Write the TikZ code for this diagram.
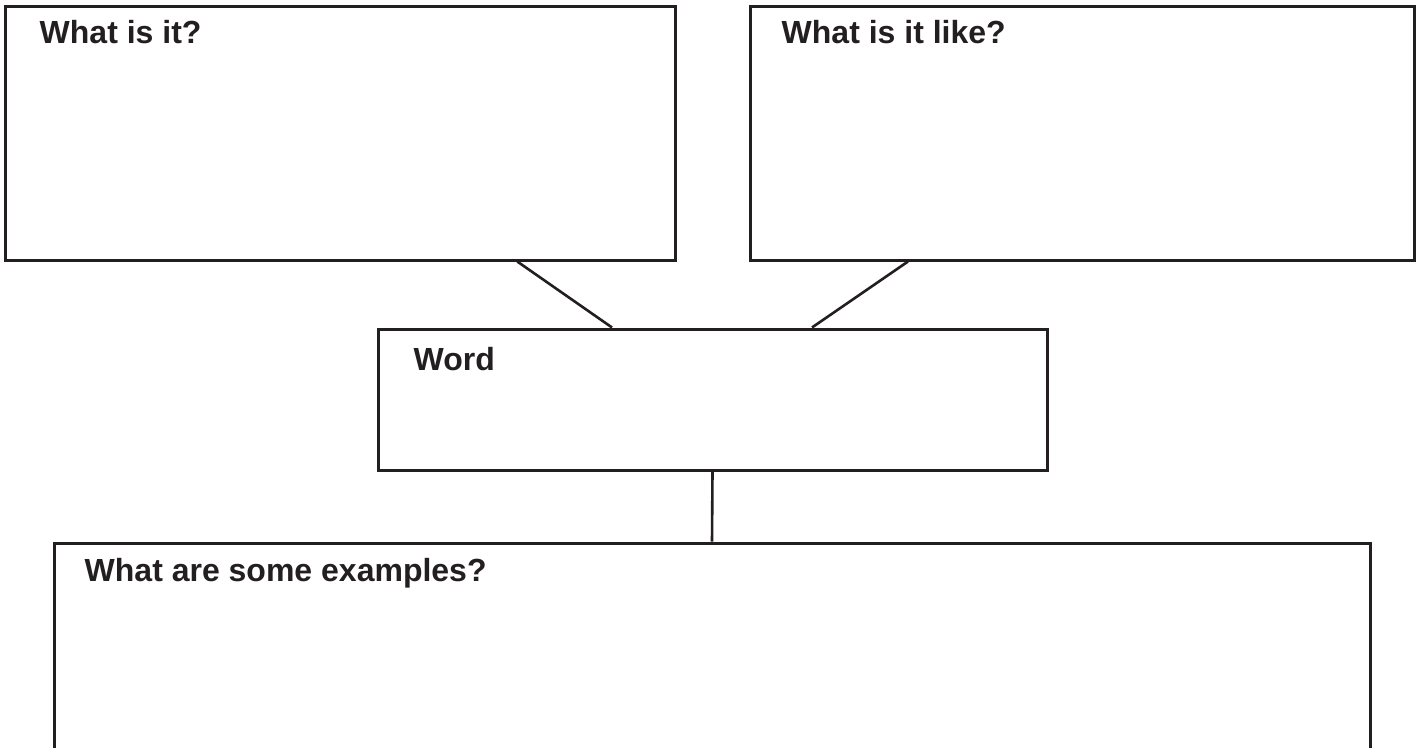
\documentclass[tikz,border=0pt]{standalone}
\usepackage{fontspec}
\setmainfont{Liberation Sans}
\definecolor{encre}{HTML}{231F20}
\begin{document}
\begin{tikzpicture}[x=1pt,y=-1pt]
	\tikzstyle{boite}=[rectangle,draw=encre,line width=3pt,inner sep=0pt]
	\tikzstyle{trait}=[draw=encre,line width=2.6pt]
	\tikzstyle{titre}=[anchor=base west,inner sep=0pt,text=encre,font=\fontsize{32}{38}\selectfont\bfseries]
	\def\HautBoites{133}
	\def\NiveauMot{399.5}
	\def\NiveauExemples{671.5}
	\useasboundingbox (0,0) rectangle (1421,747);
	\clip (0,0) rectangle (1421,747);
	% les quatre cadres
	\node[boite,minimum width=669.5,minimum height=254] (Wa) at (340.25,\HautBoites) {};
	\node[boite,minimum width=664,minimum height=254] (Wb) at (1082,\HautBoites) {};
	\node[boite,minimum width=669,minimum height=141] (W) at (712.5,\NiveauMot) {};
	\node[boite,minimum width=1316,minimum height=257] (Wc) at (712,\NiveauExemples) {};
	% les titres
	\node[titre] (Wa-t) at ([xshift=35.5pt,yshift=-39pt]Wa.north west) {What is it?};
	\node[titre] (Wb-t) at ([xshift=33pt,yshift=-39pt]Wb.north west) {What is it like?};
	\node[titre] (W-t) at ([xshift=37pt,yshift=-43pt]W.north west) {Word};
	\node[titre] (Wc-t) at ([xshift=32pt,yshift=-40pt]Wc.north west) {What are some examples?};
	% les liens
	\draw[trait] ([xshift=177pt]Wa.south)--([xshift=-100.5pt]W.north);
	\draw[trait] ([xshift=-174pt]Wb.south)--([xshift=99.5pt]W.north);
	\draw[trait] (W.south)--(Wc.north);
\end{tikzpicture}
\end{document}
